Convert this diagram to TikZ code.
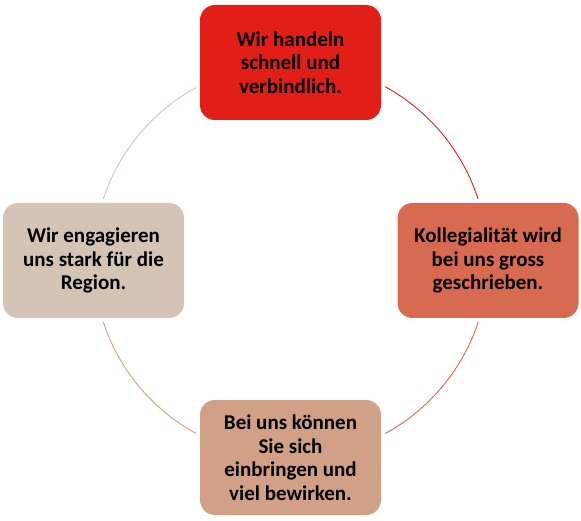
\documentclass[tikz,border=0pt]{standalone}
\usepackage{fontspec}
\setmainfont{Carlito}
\usepackage{xcolor}
\usepackage{tikz}
\usetikzlibrary{backgrounds}

\definecolor{cardred}{HTML}{E21F16}
\definecolor{cardrust}{HTML}{D76A50}
\definecolor{cardsand}{HTML}{D0A186}
\definecolor{cardstone}{HTML}{D3C4B5}

\begin{document}
\begin{tikzpicture}[x=1pt,y=-1pt,
  card/.style={rounded corners=15pt,align=center,minimum width=181pt,minimum height=115pt,inner sep=0pt,
    font=\fontsize{21}{23.5}\selectfont\bfseries,preaction={draw=white,line width=8pt}},
  ring/.style={line width=0.9pt}]
  \useasboundingbox (0,0) rectangle (581,521);
  \node[card,fill=cardred] (top) at (290.5,62.5) {Wir handeln\\schnell und\\verbindlich.};
  \node[card,fill=cardrust] (right) at (488,260.5) {Kollegialität wird\\bei uns gross\\geschrieben.};
  \node[card,fill=cardsand] (bottom) at (290.5,457.5) {Bei uns können\\Sie sich\\einbringen und\\viel bewirken.};
  \node[card,fill=cardstone] (left) at (93.5,260.5) {Wir engagieren\\uns stark für die\\Region.};
  % circle pieces behind the cards
  \begin{scope}[on background layer]
    \draw[ring,cardred] (top.center) arc[start angle=90,end angle=0,radius=197pt];
    \draw[ring,cardrust] (right.center) arc[start angle=0,end angle=-90,radius=197pt];
    \draw[ring,cardsand] (bottom.center) arc[start angle=-90,end angle=-180,radius=197pt];
    \draw[ring,cardstone] (left.center) arc[start angle=180,end angle=90,radius=197pt];
  \end{scope}
\end{tikzpicture}
\end{document}
